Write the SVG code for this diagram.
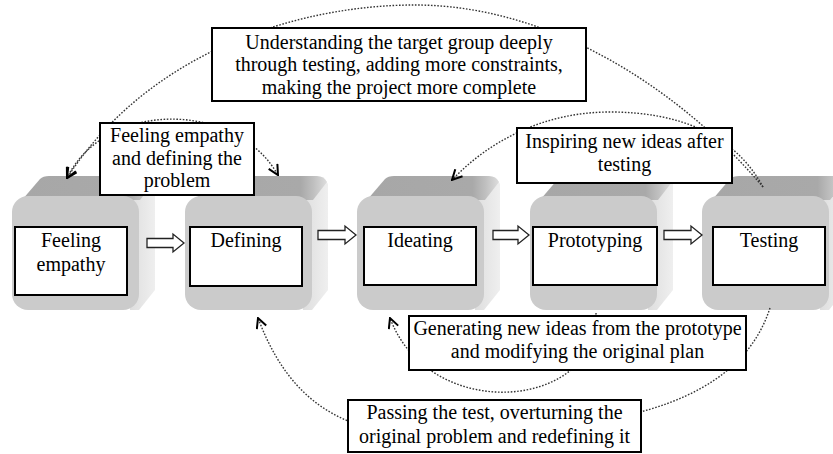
<svg xmlns="http://www.w3.org/2000/svg" width="833" height="454" viewBox="0 0 833 454">
  <defs>
    <style>
      .front{fill:#cbcbcb}
      .top{fill:url(#topShade)}
      .side{fill:url(#sideShade)}
      .label{fill:#fff;stroke:#000;stroke-width:2}
      text{font-family:"Liberation Serif","Times New Roman",serif;font-size:20px;fill:#000;text-anchor:middle}
      .flow{fill:#fff;stroke:#222;stroke-width:1.3;stroke-linejoin:miter}
      .loop{fill:none;stroke:#333;stroke-width:1.4;stroke-dasharray:1.6 1.6}
    </style>
    <linearGradient id="topShade" x1="0" y1="0" x2="1" y2="0">
      <stop offset="0" stop-color="#a7a7a7"/>
      <stop offset="0.8" stop-color="#a9a9a9"/>
      <stop offset="0.9" stop-color="#c0c0c0"/>
      <stop offset="1" stop-color="#dddddd"/>
    </linearGradient>
    <linearGradient id="sideShade" x1="0" y1="0" x2="1" y2="0">
      <stop offset="0" stop-color="#dedede"/>
      <stop offset="1" stop-color="#efefef"/>
    </linearGradient>
    <marker id="vee" viewBox="0 0 12 12" refX="11" refY="6" markerWidth="12" markerHeight="12" markerUnits="userSpaceOnUse" orient="auto-start-reverse">
      <path d="M1,1 L11,6 L1,11" fill="none" stroke="#000" stroke-width="2"/>
    </marker>
    <!-- rounded 3D block: side, top and front faces -->
    <g id="cube">
      <path class="side" d="M118,198 L130,179 Q134,176 139,178 L143,184 L143,290 L127,310 L118,310 Z"/>
      <path class="top" d="M10,200 L28,179 Q31,176 37,176 L132,176 Q139,176 142,182 L128,200 Z"/>
      <rect class="front" x="0" y="196" width="127" height="114" rx="16"/>
    </g>
  </defs>

  <rect width="833" height="454" fill="#fff"/>

  <g id="node-empathize">
    <use href="#cube" x="12"/>
    <rect class="label" x="15" y="227" width="112" height="68"/>
    <text x="71" y="247">Feeling</text>
    <text x="71" y="271">empathy</text>
  </g>
  <g id="node-define">
    <use href="#cube" x="185"/>
    <rect class="label" x="190" y="227" width="112" height="59"/>
    <text x="246" y="247">Defining</text>
  </g>
  <g id="node-ideate">
    <use href="#cube" x="357"/>
    <rect class="label" x="364" y="227" width="112" height="58"/>
    <text x="420" y="247">Ideating</text>
  </g>
  <g id="node-prototype">
    <use href="#cube" x="530"/>
    <rect class="label" x="533" y="227" width="124" height="58"/>
    <text x="595" y="247">Prototyping</text>
  </g>
  <g id="node-test">
    <use href="#cube" x="702"/>
    <rect class="label" x="713" y="227" width="112" height="58"/>
    <text x="769" y="247">Testing</text>
  </g>

  <g id="connectors">
    <!-- forward flow -->
    <path class="flow" d="M147,238.5 H173 V234 L184,243 L173,252 V247.5 H147 Z"/>
    <path class="flow" d="M318,230.5 H345 V226 L356,235 L345,244 V239.5 H318 Z"/>
    <path class="flow" d="M493,230.5 H518 V226 L529,235 L518,244 V239.5 H493 Z"/>
    <path class="flow" d="M664,230.5 H691 V226 L702,235 L691,244 V239.5 H664 Z"/>
    <!-- feedback loops -->
    <path class="loop" marker-end="url(#vee)" d="M763,187 C690,100 560,5 415,5 C300,5 150,50 67,178"/>
    <path class="loop" marker-start="url(#vee)" marker-end="url(#vee)" d="M67,178 C105,100 235,100 278,175"/>
    <path class="loop" marker-end="url(#vee)" d="M763,187 C735,135 680,112 610,112 C545,112 490,140 452,180"/>
    <path class="loop" marker-end="url(#vee)" d="M596,313 C600,410 430,425 390,318"/>
    <path class="loop" marker-end="url(#vee)" d="M770,308 C745,385 660,425 500,430 C380,445 300,430 258,318"/>
  </g>

  <g id="note-understand">
    <rect class="label" x="212" y="28" width="374" height="73"/>
    <text x="399" y="48.5">Understanding the target group deeply</text>
    <text x="399" y="71">through testing, adding more constraints,</text>
    <text x="399" y="93.5">making the project more complete</text>
  </g>
  <g id="note-empathy-define">
    <rect class="label" x="100" y="123" width="154" height="72"/>
    <text x="177" y="141.5">Feeling empathy</text>
    <text x="177" y="164.5">and defining the</text>
    <text x="177" y="187">problem</text>
  </g>
  <g id="note-inspire">
    <rect class="label" x="517" y="128" width="215" height="55"/>
    <text x="624.5" y="148">Inspiring new ideas after</text>
    <text x="624.5" y="171">testing</text>
  </g>
  <g id="note-generate">
    <rect class="label" x="409" y="316" width="337" height="54"/>
    <text x="577.5" y="335">Generating new ideas from the prototype</text>
    <text x="577.5" y="358">and modifying the original plan</text>
  </g>
  <g id="note-passing">
    <rect class="label" x="348" y="400" width="293" height="52"/>
    <text x="494.5" y="419">Passing the test, overturning the</text>
    <text x="494.5" y="443">original problem and redefining it</text>
  </g>
</svg>
